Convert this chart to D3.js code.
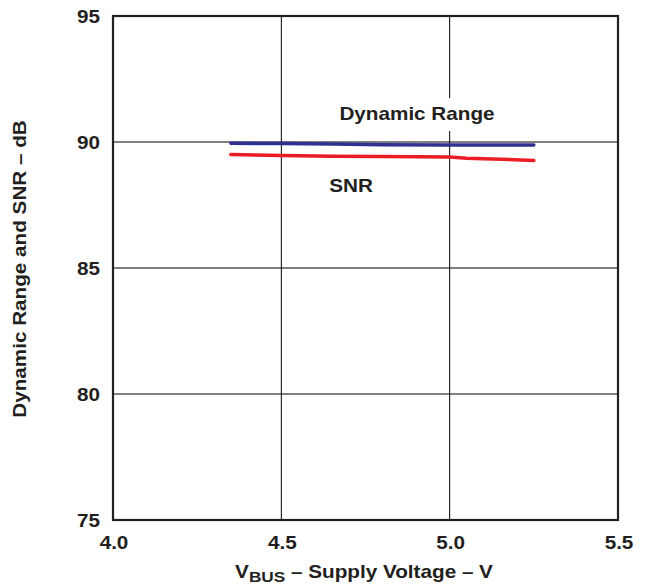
<!DOCTYPE html>
<html><head><meta charset="utf-8">
<script src="https://cdn.jsdelivr.net/npm/d3@7"></script>
<style>
html,body{margin:0;padding:0;background:#fff;}
text{font-family:"Liberation Sans",Arial,sans-serif;font-weight:bold;fill:#231f20;}
</style></head><body>
<svg id="c" width="647" height="588"></svg>
<script>
const voltage = [4.35, 4.5, 4.65, 4.8, 5.0, 5.05, 5.25];
const dynamicRange = [89.95, 89.94, 89.92, 89.89, 89.88, 89.88, 89.88];
const snr = [89.50, 89.46, 89.43, 89.42, 89.40, 89.36, 89.27];
const xTicks = [4.0, 4.5, 5.0, 5.5];
const yTicks = [75, 80, 85, 90, 95];

const SX = 1.15;
const svg = d3.select("#c");
const L = 113, R = 618, T = 16, B = 520;
const x = d3.scaleLinear().domain([4.0, 5.5]).range([L, R]);
const y = d3.scaleLinear().domain([75, 95]).range([B, T]);

function label(sel, px, py, anchor, rot) {
  return sel.append("text")
    .attr("transform", `translate(${px},${py})` + (rot ? ` rotate(${rot})` : "") + ` scale(${SX},1)`)
    .attr("text-anchor", anchor).attr("font-size", 18);
}

// grid
svg.append("g").selectAll("line").data(xTicks.slice(1, -1)).join("line")
  .attr("x1", d => x(d)).attr("x2", d => x(d)).attr("y1", T).attr("y2", B)
  .attr("stroke", "#000").attr("stroke-width", 1);
svg.append("g").selectAll("line").data(yTicks.slice(1, -1)).join("line")
  .attr("y1", d => y(d)).attr("y2", d => y(d)).attr("x1", L).attr("x2", R)
  .attr("stroke", "#000").attr("stroke-width", 1);

// label with white background (Dynamic Range)
svg.append("rect").attr("x", 334).attr("y", 98).attr("width", 166).attr("height", 33).attr("fill", "#fff");
label(svg, 417, 120, "middle").text("Dynamic Range");
label(svg, 351, 192, "middle").text("SNR");

// lines
const line = d3.line().x((d, i) => x(voltage[i])).y(d => y(d));
svg.append("path").datum(snr).attr("d", line).attr("fill", "none")
  .attr("stroke", "#ed1c24").attr("stroke-width", 3.5).attr("stroke-linecap", "round");
svg.append("path").datum(dynamicRange).attr("d", line).attr("fill", "none")
  .attr("stroke", "#2e3192").attr("stroke-width", 3.5).attr("stroke-linecap", "round");

// frame
svg.append("rect").attr("x", L).attr("y", T).attr("width", R - L).attr("height", B - T)
  .attr("fill", "none").attr("stroke", "#231f20").attr("stroke-width", 2.2);

// tick labels
yTicks.forEach(d => label(svg, 100, y(d) + 6.5, "end").text(d));
xTicks.forEach(d => label(svg, x(d) + 1, 549, "middle").text(d.toFixed(1)));

// axis titles
label(svg, 26, 269, "middle", -90).text("Dynamic Range and SNR \u2013 dB");
const xt = label(svg, 364, 578, "middle");
xt.append("tspan").text("V");
xt.append("tspan").attr("font-size", 15).attr("dy", 4).text("BUS");
xt.append("tspan").attr("dy", -4).text(" \u2013 Supply Voltage \u2013 V");
</script>
</body></html>
